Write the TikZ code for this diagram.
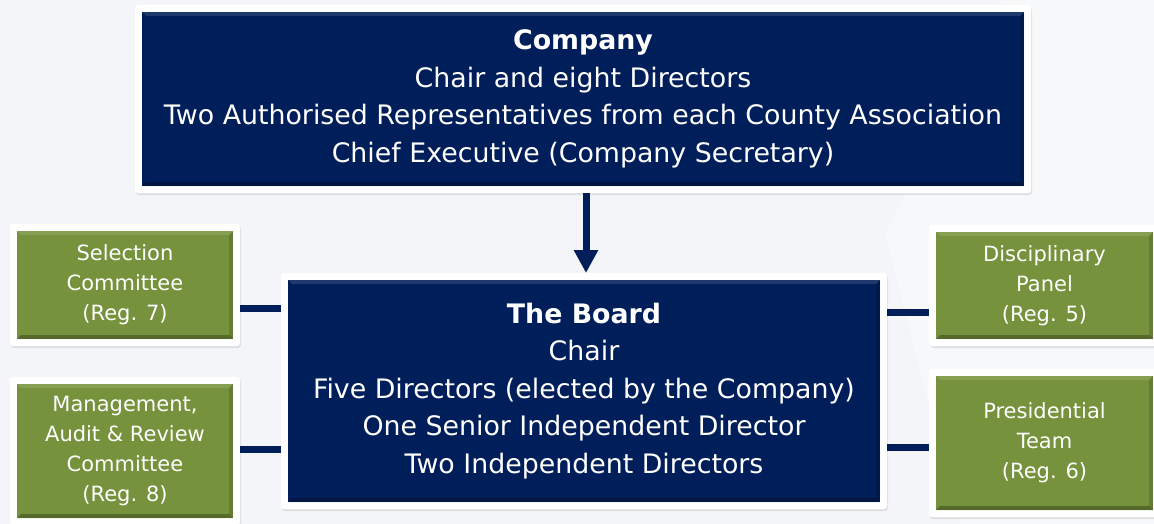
\documentclass[tikz,border=0pt]{standalone}
\usepackage{fontspec}
\setmainfont{DejaVu Sans}
\usetikzlibrary{arrows.meta,shadows,fit,backgrounds}
\definecolor{navy}{HTML}{001E5A}
\definecolor{olive}{HTML}{76923C}
\definecolor{bgc}{HTML}{F3F5F8}
\tikzset{
  x=1pt, y=-1pt,
  bevel/.style={path picture={
    \fill[black,opacity=0.28] (path picture bounding box.south west) -- (path picture bounding box.south east)
      -- ([shift={(-4pt,4pt)}]path picture bounding box.south east) -- ([shift={(4pt,4pt)}]path picture bounding box.south west) -- cycle;
    \fill[black,opacity=0.15] (path picture bounding box.south east) -- (path picture bounding box.north east)
      -- ([shift={(-4pt,-4pt)}]path picture bounding box.north east) -- ([shift={(-4pt,4pt)}]path picture bounding box.south east) -- cycle;
    \fill[white,opacity=0.12] (path picture bounding box.north west) -- (path picture bounding box.north east)
      -- ([shift={(-4pt,-4pt)}]path picture bounding box.north east) -- ([shift={(4pt,-4pt)}]path picture bounding box.north west) -- cycle;
  }},
  navybox/.style={rectangle, fill=navy, bevel, inner sep=0pt, outer sep=0pt, align=center, text=white,
    font=\fontsize{26.8}{37.5}\selectfont},
  greenbox/.style={rectangle, fill=olive, bevel, inner sep=0pt, outer sep=0pt, align=center, text=white,
    minimum width=216pt, font=\fontsize{21}{30}\selectfont},
  frame/.style={rectangle, fill=white, inner sep=7pt, outer sep=0pt, rounded corners=3pt,
    drop shadow={opacity=0.18, shadow xshift=1pt, shadow yshift=-2pt}},
  conn/.style={draw=navy, line width=7pt},
}
\begin{document}
\begin{tikzpicture}
\clip (0,0) rectangle (1154,524);
% nodes
\node[navybox, minimum width=882pt, minimum height=174pt] (comp) at (583,99)
  {\textbf{Company}\\Chair and eight Directors\\Two Authorised Representatives from each County Association\\Chief Executive (Company Secretary)};
\node[navybox, minimum width=592pt, minimum height=222pt] (board) at (584,391)
  {\textbf{The Board}\\Chair\\Five Directors (elected by the Company)\\One Senior Independent Director\\Two Independent Directors};
\node[greenbox, minimum height=108pt] (sel) at (125,285) {Selection\\Committee\\(Reg. 7)};
\node[greenbox, minimum height=134pt] (mar) at (125,451) {Management,\\Audit \& Review\\Committee\\(Reg. 8)};
\node[greenbox, minimum width=217pt, minimum height=107pt] (dis) at (1044.5,285.5) {Disciplinary\\Panel\\(Reg. 5)};
\node[greenbox, minimum width=217pt, minimum height=134pt] (pres) at (1044.5,443) {Presidential\\Team\\(Reg. 6)};
\begin{scope}[on background layer]
  \fill[bgc] (0,0) rectangle (1154,524);
  \fill[white,opacity=0.35] (1000,0) -- (1154,0) -- (1154,524) -- (960,524) -- (885,235) -- cycle;
  \node[frame, fit=(comp)] (compF) {};
  \node[frame, fit=(board)] (boardF) {};
  \node[frame, fit=(sel)] (selF) {};
  \node[frame, fit=(mar)] (marF) {};
  \node[frame, fit=(dis)] (disF) {};
  \node[frame, fit=(pres)] (presF) {};
\end{scope}
% connectors
\draw[conn, -{Triangle[width=23pt,length=23pt]}] ([xshift=3pt]compF.south) -- ([xshift=2pt]boardF.north);
\draw[conn] (selF.east |- 0,308) -- (boardF.west |- 0,308);
\draw[conn] (marF.east |- 0,449) -- (boardF.west |- 0,449);
\draw[conn] (boardF.east |- 0,312) -- (disF.west |- 0,312);
\draw[conn] (boardF.east |- 0,447) -- (presF.west |- 0,447);
\end{tikzpicture}
\end{document}
